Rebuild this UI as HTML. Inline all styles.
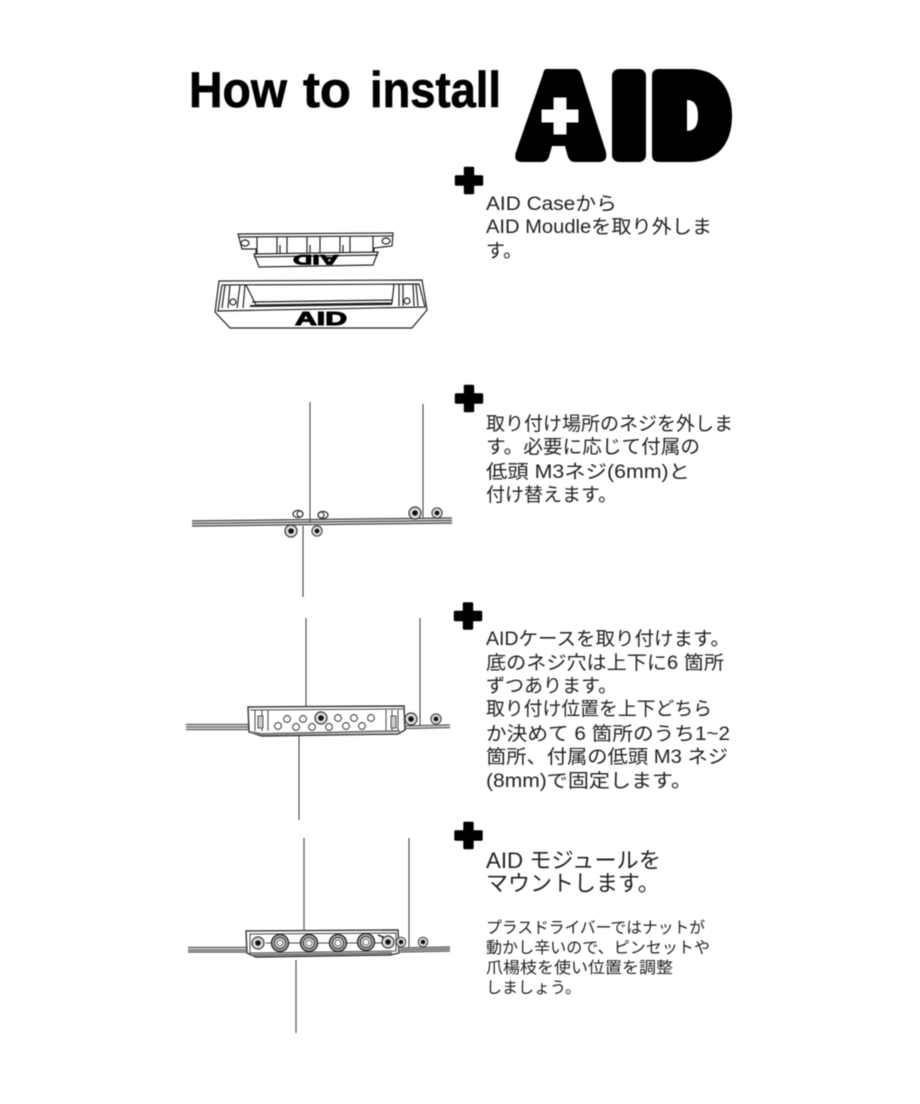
<!DOCTYPE html>
<html><head><meta charset="utf-8"><style>
html,body{margin:0;padding:0;background:#fff}
svg{display:block;filter:blur(.45px)}
.t{font-family:"Liberation Sans","Noto Sans CJK JP",sans-serif;font-size:19px;fill:#222}
.h{font-size:22px}
.s{font-size:16px}
.w{font-family:"Liberation Sans",sans-serif;font-weight:700;font-size:50px;fill:#000;stroke:#000;stroke-width:.7}
</style></head><body>
<svg width="920" height="1104" viewBox="0 0 920 1104" xmlns="http://www.w3.org/2000/svg">
<defs>
<g id="plus"><path d="M-4,-12.5 H4 V-4 H13 V4 H4 V12.5 H-4 V4 H-13 V-4 H-4 Z" fill="#000" stroke="#000" stroke-width="2.4" stroke-linejoin="round"/></g>
<g id="sc"><circle r="6" fill="#ddd" stroke="#333" stroke-width="1.2"/><circle r="2.8" fill="#111"/></g>
<g id="ho"><circle r="3.4" fill="#fff" stroke="#444" stroke-width="1.1"/></g>
<g id="jack"><circle r="8.5" fill="#aaa" stroke="#222" stroke-width="1.3"/><circle r="5.6" fill="#ddd" stroke="#333"/><circle r="3" fill="#fff" stroke="#444" stroke-width=".8"/></g>
</defs>
<rect width="920" height="1104" fill="#fff"/>

<text class="w" x="189" y="107" textLength="98" lengthAdjust="spacingAndGlyphs">How</text>
<text class="w" x="303" y="107" textLength="48" lengthAdjust="spacingAndGlyphs">to</text>
<text class="w" x="370" y="107" textLength="131" lengthAdjust="spacingAndGlyphs">install</text>

<path d="M546,69 H575 Q579,69 581,74 L606,152 Q608,162 599,162 H575 Q570,162 568,157 L565,146 H552 L549,157 Q547,162 542,162 H522 Q513,162 516,152 L543,74 Q544,69 546,69 Z" fill="#000"/>
<path d="M554,98 H566 V110 H578 V122 H566 V134 H554 V122 H542 V110 H554 Z" fill="#fff" stroke="#fff" stroke-width="1" stroke-linejoin="round"/>
<rect x="612" y="69" width="34" height="93" rx="7" fill="#000"/>
<path d="M659,69 H690 C718,69 732,88 732,116 C732,145 716,162 690,162 H659 Q652,162 652,155 V76 Q652,69 659,69 Z" fill="#000"/>
<path d="M687,100 Q698,100 698,116 Q698,131 687,131 Z" fill="#fff"/>

<use href="#plus" x="469" y="180.5"/>
<use href="#plus" x="469" y="398.5"/>
<use href="#plus" x="468" y="616"/>
<use href="#plus" x="468.5" y="835.5"/>

<text class="t" x="486" y="210" textLength="131" lengthAdjust="spacingAndGlyphs">AID Caseから</text>
<text class="t" x="486" y="233" textLength="226" lengthAdjust="spacingAndGlyphs">AID Moudleを取り外しま</text>
<text class="t" x="486" y="257">す。</text>

<text class="t" x="486" y="430" textLength="247" lengthAdjust="spacingAndGlyphs">取り付け場所のネジを外しま</text>
<text class="t" x="486" y="453" textLength="214" lengthAdjust="spacingAndGlyphs">す。必要に応じて付属の</text>
<text class="t" x="486" y="478" textLength="204" lengthAdjust="spacingAndGlyphs">低頭 M3ネジ(6mm)と</text>
<text class="t" x="486" y="501">付け替えます。</text>

<text class="t" x="486" y="645" textLength="244" lengthAdjust="spacingAndGlyphs">AIDケースを取り付けます。</text>
<text class="t" x="486" y="669" textLength="238" lengthAdjust="spacingAndGlyphs">底のネジ穴は上下に6 箇所</text>
<text class="t" x="486" y="692">ずつあります。</text>
<text class="t" x="486" y="715" textLength="226" lengthAdjust="spacingAndGlyphs">取り付け位置を上下どちら</text>
<text class="t" x="486" y="740" textLength="244" lengthAdjust="spacingAndGlyphs">か決めて 6 箇所のうち1~2</text>
<text class="t" x="486" y="763" textLength="242" lengthAdjust="spacingAndGlyphs">箇所、付属の低頭 M3 ネジ</text>
<text class="t" x="486" y="787" textLength="206" lengthAdjust="spacingAndGlyphs">(8mm)で固定します。</text>

<text class="t h" x="486" y="868" textLength="175" lengthAdjust="spacingAndGlyphs">AID モジュールを</text>
<text class="t h" x="486" y="891">マウントします。</text>
<text class="t s" x="486" y="933" textLength="219" lengthAdjust="spacingAndGlyphs">プラスドライバーではナットが</text>
<text class="t s" x="486" y="953" textLength="224" lengthAdjust="spacingAndGlyphs">動かし辛いので、ピンセットや</text>
<text class="t s" x="486" y="973" textLength="187" lengthAdjust="spacingAndGlyphs">爪楊枝を使い位置を調整</text>
<text class="t s" x="486" y="993">しましょう。</text>

<!-- diagram 1 -->
<g fill="none" stroke="#222" stroke-width="1.2">
<path d="M238,234 L393,233 L392,246 L374,248 V254 L256,256 V249 L242,249 Z" fill="#fff"/>
<path d="M239,237 L392,236"/>
<ellipse cx="245" cy="243" rx="4" ry="3"/><ellipse cx="386" cy="241" rx="4" ry="3"/>
<path d="M257,237 V254 M373,236 V252 M277,237 V254 M280,245 V254 M287,237 V254 M307,237 V254 M310,245 V254 M320,236 V254 M340,236 V253 M343,245 V253 M350,236 V253"/>
<path d="M254,254 L378,252 L373,265 L259,267 Z" fill="#fff"/>
<path d="M254,257 L378,255"/>
<path d="M219,281 L422,280 L427,310 L412,328 H230 L215,312 Z" fill="#fff"/>
<path d="M222,285 L419,284 L425,307 L217,311"/>
<path d="M222,285 L218,311"/>
<path d="M225,285 L222,308 M230,285 L228,308 M240,285 L237,308 M245,285 L243,308 M246,285 L256,305 L392,303 L394,284 M252,302 L392,300 M399,284 V306 M403,284 V306 M413,284 L414,306 M416,284 L418,306"/>
<path d="M250,306 L392,304" stroke-width="2"/>
<circle cx="233" cy="302" r="3"/><circle cx="407" cy="301" r="3"/>
</g>
<text x="321" y="325" text-anchor="middle" font-family="Liberation Sans,sans-serif" font-weight="700" font-size="18" textLength="52" lengthAdjust="spacingAndGlyphs" fill="#000" stroke="#000" stroke-width="1">AID</text>
<text transform="translate(316,255) rotate(180)" text-anchor="middle" font-family="Liberation Sans,sans-serif" font-weight="700" font-size="14" textLength="46" lengthAdjust="spacingAndGlyphs" fill="#000" stroke="#000" stroke-width=".8">AID</text>

<!-- diagram 2 -->
<g stroke="#333" stroke-width="1" fill="none">
<path d="M310,402 V522 M423,404 V518 M303,526 V597"/>
<g stroke="#555" stroke-width="1.5">
<path d="M192,521 L452,518 M192,523.5 L452,520.5 M192,526 L452,523"/>
</g>
<ellipse cx="298" cy="514" rx="5" ry="3.6" stroke-width="1.2"/><ellipse cx="300" cy="514" rx="3" ry="3" stroke-width="1.2"/>
<ellipse cx="323" cy="515" rx="5" ry="3.6" stroke-width="1.2"/><ellipse cx="321" cy="515" rx="3" ry="3" stroke-width="1.2"/>
</g>
<use href="#sc" x="415" y="513"/><use href="#sc" transform="translate(437,513) scale(.85)"/>
<use href="#sc" x="291" y="531"/><use href="#sc" transform="translate(317,531) scale(.85)"/>

<!-- diagram 3 -->
<g stroke="#333" stroke-width="1" fill="none">
<path d="M306,618 V706 M420,618 V726 M299,735 V820"/>
<g stroke="#666" stroke-width="1.5">
<path d="M186,724.5 L250,724.5 M186,727 L250,727 M186,729.5 L250,729.5 M405,726 L450,725 M405,728.500 L450,727.5"/>
</g>
<path d="M248,707 L404,706 L405,730 L398,734 L262,736 L249,732 Z" fill="#fff" stroke-width="1.4"/>
<path d="M250,710 L403,709 M262,710 V731 M268,710 V731 M386,710 V731 M392,710 V731 M255,710 V731 M398,710 V731" stroke="#444"/>
<path d="M250,732 L262,734 L400,731" stroke="#777" stroke-width="2"/>
<rect x="258" y="716" width="5" height="12" fill="#ccc" stroke="#555"/>
<rect x="391" y="716" width="5" height="12" fill="#ccc" stroke="#555"/>
</g>
<use href="#ho" x="287" y="719"/><use href="#ho" x="303" y="719"/><use href="#ho" x="338" y="718"/><use href="#ho" x="354" y="718"/><use href="#ho" x="371" y="718"/>
<use href="#ho" x="278" y="726"/><use href="#ho" x="296" y="727"/><use href="#ho" x="312" y="727"/><use href="#ho" x="329" y="727"/><use href="#ho" x="346" y="726"/><use href="#ho" x="362" y="726"/>
<use href="#sc" x="321" y="718"/><use href="#sc" x="411" y="719"/><use href="#sc" transform="translate(436,719) scale(.85)"/>

<!-- diagram 4 -->
<g stroke="#333" stroke-width="1" fill="none">
<path d="M304,838 V930 M409,838 V948 M296,960 V1033"/>
<g stroke="#666" stroke-width="1.6">
<path d="M188,947.500 L246,947.500 M188,950 L246,950 M188,952 L246,952 M400,948 L450,947 M400,950 L450,949 M400,952 L450,951"/>
</g>
<path d="M246,931 L398,930 L399,953 L390,955 L256,957 L247,953 Z" fill="#fff" stroke-width="1.4"/>
<path d="M250,934 L396,933 V951 L250,953 Z M266,943 H390" stroke="#444"/>
<path d="M378,935 L383,937 V943" stroke="#111" stroke-width="1.4"/>
<path d="M252,955 L392,953" stroke="#777" stroke-width="2"/>
</g>
<use href="#sc" x="258" y="943"/><use href="#sc" x="388" y="942"/>
<use href="#jack" x="280" y="943"/><use href="#jack" x="309" y="943"/><use href="#jack" x="338" y="943"/><use href="#jack" x="366" y="942"/>
<use href="#sc" transform="translate(401,942) scale(.8)"/><use href="#sc" transform="translate(423,942) scale(.8)"/>
</svg>
</body></html>
